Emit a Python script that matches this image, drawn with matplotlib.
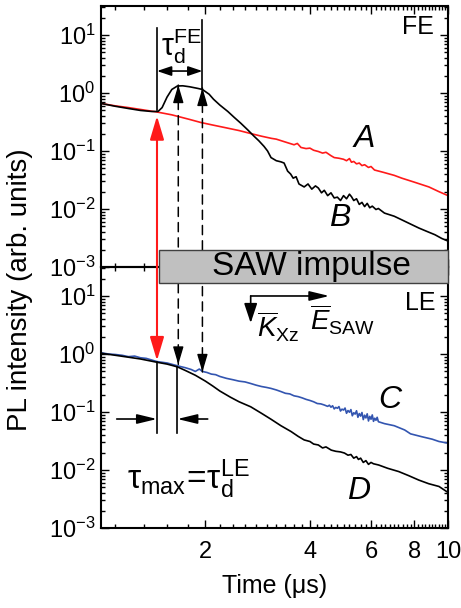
import numpy as np
import matplotlib
matplotlib.use("Agg")
import matplotlib.pyplot as plt
from matplotlib.ticker import FixedLocator, LogLocator, NullFormatter, FixedFormatter
from matplotlib.patches import Rectangle, ConnectionPatch

plt.rcParams['font.family'] = ['Liberation Sans', 'DejaVu Sans']
plt.rcParams['mathtext.fontset'] = 'custom'
plt.rcParams['mathtext.rm'] = 'Liberation Sans'
plt.rcParams['mathtext.it'] = 'Liberation Sans:italic'
plt.rcParams['mathtext.bf'] = 'Liberation Sans:bold'

# FE panel, curve A (no SAW) and B (with SAW)
tA = [1.0, 1.1, 1.2, 1.3, 1.45, 1.6, 1.8, 1.94, 2.1, 2.3, 2.5, 2.7, 2.9, 3.1, 3.2, 3.37,
      3.5, 3.6, 3.68, 3.77, 3.9, 4.0, 4.1, 4.23, 4.35, 4.45, 4.6, 4.7, 4.85, 5.0, 5.1, 5.2,
      5.27, 5.35, 5.45, 5.55, 5.65, 5.75, 5.9, 6.0, 6.14, 6.5, 7.0, 7.36, 8.0, 8.81, 9.4, 10.0]
IA = [0.66, 0.60, 0.56, 0.52, 0.47, 0.42, 0.35, 0.31, 0.28, 0.25, 0.225, 0.20, 0.18, 0.165, 0.16, 0.145,
      0.135, 0.128, 0.135, 0.115, 0.11, 0.112, 0.103, 0.098, 0.092, 0.095, 0.083, 0.077, 0.075, 0.072, 0.068, 0.074,
      0.064, 0.066, 0.060, 0.062, 0.056, 0.058, 0.052, 0.054, 0.047, 0.043, 0.038, 0.034, 0.029, 0.024, 0.020, 0.017]

tB = [1.0, 1.1, 1.2, 1.3, 1.4, 1.46, 1.5, 1.55, 1.6, 1.66, 1.72, 1.8, 1.9, 1.96, 2.05, 2.11,
      2.2, 2.32, 2.42, 2.53, 2.65, 2.76, 2.85, 2.95, 3.02, 3.09, 3.2, 3.3, 3.37, 3.45, 3.52, 3.58,
      3.65, 3.72, 3.85, 3.95, 4.05, 4.15, 4.23, 4.32, 4.4, 4.5, 4.6, 4.7, 4.8, 4.9, 5.0, 5.1,
      5.2, 5.27, 5.35, 5.45, 5.55, 5.65, 5.75, 5.85, 5.95, 6.05, 6.2, 6.3, 6.56, 7.0, 7.36, 7.8,
      8.24, 8.7, 9.17, 9.6, 10.0]
IB = [0.66, 0.59, 0.54, 0.50, 0.48, 0.48, 0.56, 0.85, 1.15, 1.32, 1.33, 1.28, 1.20, 1.15, 0.95, 0.78,
      0.62, 0.48, 0.38, 0.30, 0.23, 0.18, 0.15, 0.12, 0.10, 0.077, 0.068, 0.065, 0.062, 0.045, 0.040, 0.034,
      0.036, 0.027, 0.024, 0.027, 0.022, 0.025, 0.023, 0.019, 0.021, 0.017, 0.019, 0.0155, 0.016, 0.014, 0.017, 0.015,
      0.018, 0.0163, 0.014, 0.015, 0.012, 0.013, 0.011, 0.0125, 0.0105, 0.0112, 0.0098, 0.0102, 0.0085, 0.0075, 0.0065, 0.0055,
      0.0047, 0.0041, 0.0036, 0.0031, 0.0028]

# LE panel, curve C (blue) and D (black)
tC = [1.0, 1.05, 1.1, 1.15, 1.2, 1.25, 1.3, 1.35, 1.45, 1.55, 1.67, 1.75, 1.82, 1.87, 1.92, 1.96,
      2.02, 2.08, 2.14, 2.2, 2.3, 2.4, 2.5, 2.6, 2.7, 2.8, 2.9, 3.0, 3.09, 3.2, 3.3, 3.4,
      3.5, 3.6, 3.7, 3.8, 3.9, 4.0, 4.1, 4.2, 4.3, 4.4,
      4.5, 4.55, 4.6, 4.65, 4.7, 4.75, 4.8, 4.85, 4.9, 4.95, 5.0, 5.05, 5.1, 5.15, 5.2, 5.25,
      5.3, 5.35, 5.4, 5.45, 5.5, 5.55, 5.6, 5.65, 5.7, 5.75, 5.8, 5.85, 5.9, 5.95, 6.0, 6.05,
      6.1, 6.15, 6.2, 6.25, 6.3, 6.56, 7.0, 7.5, 7.8, 8.4, 9.0, 9.42, 10.0]
IC = [1.05, 1.0, 0.98, 0.95, 0.90, 0.92, 0.86, 0.84, 0.74, 0.70, 0.62, 0.58, 0.54, 0.50, 0.55, 0.50,
      0.48, 0.45, 0.44, 0.41, 0.38, 0.36, 0.34, 0.33, 0.31, 0.29, 0.275, 0.265, 0.255, 0.24, 0.225, 0.21,
      0.205, 0.19, 0.184, 0.175, 0.165, 0.158, 0.15, 0.14, 0.138, 0.132,
      0.125, 0.131, 0.121, 0.128, 0.113, 0.120, 0.116, 0.124, 0.104, 0.112, 0.108, 0.117, 0.095, 0.106, 0.099, 0.110,
      0.086, 0.097, 0.092, 0.105, 0.081, 0.094, 0.085, 0.098, 0.074, 0.088, 0.079, 0.093, 0.070, 0.084, 0.075, 0.089,
      0.069, 0.078, 0.072, 0.081, 0.068, 0.063, 0.058, 0.049, 0.042, 0.0375, 0.034, 0.031, 0.029]

tD = [1.0, 1.1, 1.2, 1.3, 1.45, 1.55, 1.66, 1.75, 1.87, 2.0, 2.1, 2.2, 2.36, 2.5, 2.7, 2.9,
      3.09, 3.3, 3.53, 3.7, 3.85, 4.0, 4.1, 4.23, 4.35, 4.45, 4.61, 4.75, 4.9, 5.03, 5.15, 5.25,
      5.35, 5.45, 5.52, 5.6, 5.7, 5.8, 5.9, 6.0, 6.1, 6.31, 6.7, 7.21, 7.7, 8.24, 8.8, 9.42, 10.0]
ID = [1.03, 0.95, 0.88, 0.82, 0.72, 0.67, 0.60, 0.52, 0.43, 0.34, 0.28, 0.23, 0.18, 0.15, 0.123, 0.095,
      0.075, 0.058, 0.046, 0.038, 0.033, 0.031, 0.028, 0.027, 0.024, 0.025, 0.022, 0.021, 0.0205, 0.0196, 0.018, 0.0185,
      0.016, 0.017, 0.0152, 0.016, 0.0135, 0.0145, 0.0125, 0.0135, 0.0128, 0.0122, 0.0107, 0.0094, 0.008, 0.0067, 0.0058, 0.0052, 0.0041]

xmajor = [2, 4, 6, 8, 10]
xminor = [1.1, 1.33, 1.55, 1.78, 2.2, 2.4, 2.6, 2.8, 3.0, 3.2, 3.4, 3.6, 3.8, 4.2, 4.4, 4.6, 4.8,
          5.0, 5.2, 5.4, 5.6, 5.8, 6.2, 6.4, 6.6, 6.8, 7.0, 7.2, 7.4, 7.6, 7.8, 8.2, 8.4, 8.6,
          8.8, 9.0, 9.2, 9.4, 9.6, 9.8]

W, H = 461, 608
fig = plt.figure(figsize=(W / 100, H / 100), dpi=100)

def fx(px):
    return px / W

def fy(py):
    return 1 - py / H

ax1 = fig.add_axes([fx(101), fy(267), fx(448) - fx(101), fy(6) - fy(267)])
ax2 = fig.add_axes([fx(101), fy(528), fx(448) - fx(101), fy(267) - fy(528)])

ax1.plot(tA, IA, color='#ff1a1a', lw=1.2)
ax1.plot(tB, IB, color='black', lw=1.2)
ax2.plot(tC, IC, color='#3355b0', lw=1.2)
ax2.plot(tD, ID, color='black', lw=1.2)

for ax in (ax1, ax2):
    ax.set_xscale('log')
    ax.set_yscale('log')
    ax.set_xlim(1, 10)
    ax.set_ylim(1e-3, 31.6)
    ax.xaxis.set_major_locator(FixedLocator(xmajor))
    ax.xaxis.set_minor_locator(FixedLocator(xminor))
    ax.xaxis.set_minor_formatter(NullFormatter())
    ax.yaxis.set_major_locator(LogLocator(base=10, numticks=10))
    ax.yaxis.set_minor_locator(LogLocator(base=10, subs=np.arange(2, 10), numticks=10))
    ax.yaxis.set_minor_formatter(NullFormatter())
    ax.tick_params(which='both', direction='in', top=True, right=True, width=1)
    ax.tick_params(which='major', length=6, labelsize=17)
    ax.tick_params(which='minor', length=3)
    ax.tick_params(axis='y', pad=4)
    ax.tick_params(axis='x', pad=9)
    for s in ax.spines.values():
        s.set_linewidth(1.5)
    ax.patch.set_visible(False)

ax1.xaxis.set_major_formatter(NullFormatter())
ax2.xaxis.set_major_formatter(FixedFormatter([str(v) for v in xmajor]))

ax2.set_xlabel('Time (\u03bcs)', fontsize=18, labelpad=8)
fig.text(fx(20), fy(290), 'PL intensity (arb. units)', rotation=90, fontsize=20,
         ha='center', va='center')

# labels
ax1.text(9.1, 13.7, 'FE', fontsize=18, ha='right', va='center')
ax2.text(9.2, 7.6, 'LE', fontsize=18, ha='right', va='center')
ax1.text(5.75, 0.161, 'A', fontsize=23, style='italic', ha='center', va='center')
ax1.text(4.86, 0.0070, 'B', fontsize=23, style='italic', ha='center', va='center')
ax2.text(6.79, 0.161, 'C', fontsize=23, style='italic', ha='center', va='center')
ax2.text(5.52, 0.00435, 'D', fontsize=23, style='italic', ha='center', va='center')

def conn(xyA, axA, xyB, axB, style, color='black', ls='-', lw=1.2, z=3):
    cp = ConnectionPatch(xyA=xyA, coordsA=axA.transData, xyB=xyB, coordsB=axB.transData,
                         arrowstyle=style, color=color, lw=lw, linestyle=ls,
                         shrinkA=0, shrinkB=0, mutation_scale=10, zorder=z)
    fig.add_artist(cp)

def head(ax, tip, dx, dy, hl, hw):
    ax.annotate('', xy=tip, xytext=(dx, dy), textcoords='offset points',
                arrowprops=dict(arrowstyle='-|>,head_length=%g,head_width=%g' % (hl, hw),
                                color='black', lw=1, shrinkA=0, shrinkB=0, mutation_scale=10),
                annotation_clip=False)

# red double arrow
conn((1.45, 0.40), ax1, (1.45, 0.77), ax2, '<|-|>,head_length=1.44,head_width=0.43',
     color='#ff1a1a', lw=1.5)

# dashed lines with heads
conn((1.67, 1.37), ax1, (1.67, 0.66), ax2, '-', ls=(0, (6, 4)), lw=1.1)
conn((1.96, 1.22), ax1, (1.96, 0.49), ax2, '-', ls=(0, (6, 4)), lw=1.1)
head(ax1, (1.67, 1.37), 0, -11, 1.08, 0.32)
head(ax1, (1.96, 1.22), 0, -11, 1.08, 0.32)
head(ax2, (1.67, 0.66), 0, 11, 1.08, 0.32)
head(ax2, (1.96, 0.49), 0, 11, 1.08, 0.32)

# tau_d FE bar
ax1.plot([1.45, 1.45], [13.2, 0.50], color='black', lw=1.2)
ax1.plot([1.96, 1.96], [18.2, 1.17], color='black', lw=1.2)
ax1.annotate('', xy=(1.45, 2.39), xytext=(1.96, 2.39),
             arrowprops=dict(arrowstyle='<|-|>,head_length=0.86,head_width=0.29', color='black',
                             lw=1.2, shrinkA=0, shrinkB=0, mutation_scale=10))
ax1.text(1.49, 2.9, r'$\mathrm{\tau}_{\mathrm{d}}^{\mathrm{FE}}$', fontsize=22, ha='left', va='bottom')

# tau_max bar
ax2.plot([1.45, 1.45], [0.72, 0.0435], color='black', lw=1.2)
ax2.plot([1.66, 1.66], [0.60, 0.0435], color='black', lw=1.2)
ax2.annotate('', xy=(1.45, 0.0757), xytext=(1.11, 0.0757),
             arrowprops=dict(arrowstyle='-|>,head_length=1.2,head_width=0.29', color='black',
                             lw=1.2, shrinkA=0, shrinkB=0, mutation_scale=10))
ax2.annotate('', xy=(1.66, 0.0757), xytext=(2.03, 0.0757),
             arrowprops=dict(arrowstyle='-|>,head_length=1.2,head_width=0.29', color='black',
                             lw=1.2, shrinkA=0, shrinkB=0, mutation_scale=10))
ax2.text(1.19, 0.0068, r'$\mathrm{\tau}_{\mathrm{max}}\!=\!\mathrm{\tau}_{\mathrm{d}}^{\mathrm{LE}}$',
         fontsize=24, ha='left', va='center')

# E_SAW and K_Xz arrows
ax2.annotate('', xy=(4.55, 10), xytext=(2.70, 10),
             arrowprops=dict(arrowstyle='-|>,head_length=1.2,head_width=0.29', color='black',
                             lw=1.2, shrinkA=0, shrinkB=0, mutation_scale=10))
ax2.annotate('', xy=(2.70, 3.42), xytext=(2.70, 10),
             arrowprops=dict(arrowstyle='-|>,head_length=1.2,head_width=0.4', color='black',
                             lw=1.2, shrinkA=0, shrinkB=0, mutation_scale=10))
ax2.text(4.0, 3.9, r'$\overline{E}_{\mathrm{SAW}}$', fontsize=20, ha='left', va='center')
ax2.text(2.82, 2.9, r'$\overline{K}_{\mathrm{Xz}}$', fontsize=20, ha='left', va='center')

# SAW impulse box
fig.add_artist(Rectangle((fx(159), fy(283)), fx(448) - fx(159), fy(250) - fy(283),
                         transform=fig.transFigure, facecolor='#c0c0c0', edgecolor='#404040',
                         lw=1.0, zorder=5))
fig.text(fx(311), fy(267), 'SAW impulse', fontsize=24, ha='center', va='center', zorder=6)

fig.savefig('out.png', dpi=100)
